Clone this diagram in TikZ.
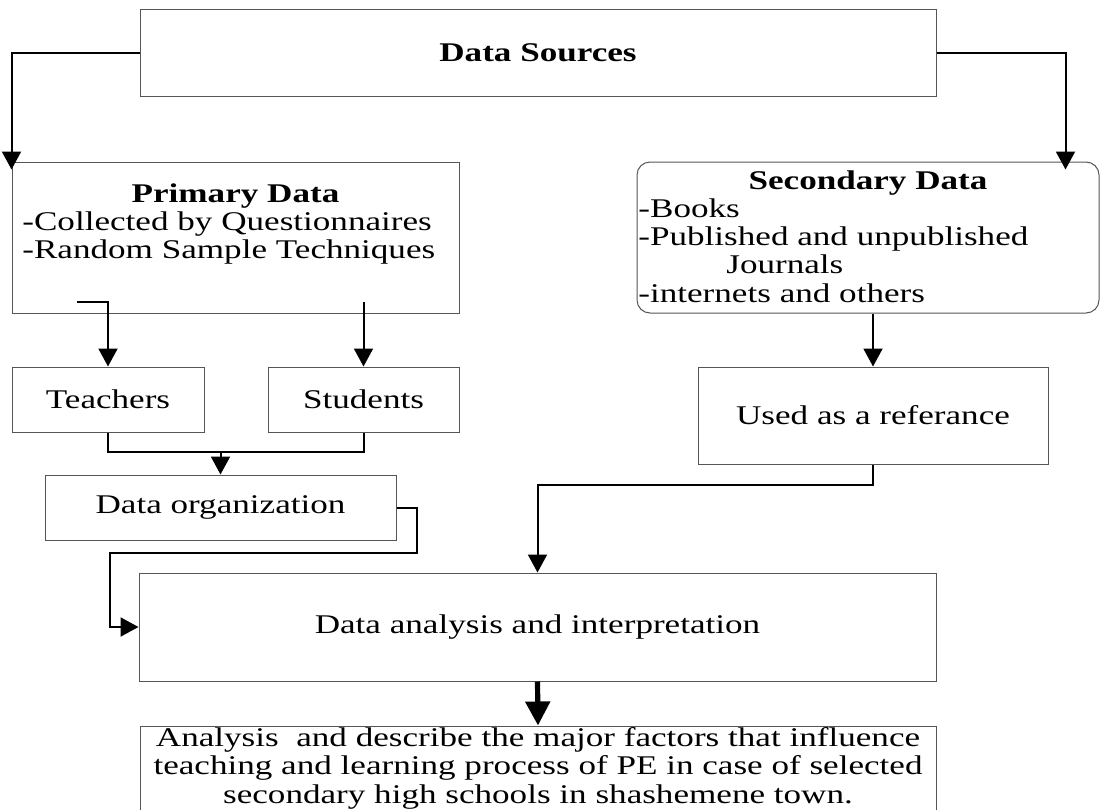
\documentclass[tikz,border=0pt]{standalone}
\usepackage{fontspec}
\setmainfont{Liberation Serif}
\usepackage{graphicx}
\usepackage{tikz}
\usetikzlibrary{arrows.meta,positioning}
\definecolor{boxgray}{RGB}{85,85,85}
\newcommand{\xwide}[1]{\scalebox{1.3}[1]{#1}}

\begin{document}
\begin{tikzpicture}[x=0.5pt,y=-0.5pt,
    box/.style={draw=boxgray, line width=0.5pt, inner sep=0pt, font=\fontsize{13.5}{14.25}\selectfont},
    txt/.style={inner sep=0pt, font=\fontsize{13.5}{14.25}\selectfont},
    conn/.style={-{Triangle[width=9.5pt,length=9pt]}, line width=1pt},
    link/.style={line width=1pt},
    bigconn/.style={-{Triangle[width=12pt,length=12pt]}, line width=2.6pt}]

    \useasboundingbox (0,0) rectangle (1102,809);
    \clip (0,0) rectangle (1102,809);

    % data sources
    \node[box, minimum width=398pt, minimum height=43.5pt] (src) at (538,52.5) {\xwide{\textbf{Data Sources}}};

    % primary data
    \node[box, minimum width=223.5pt, minimum height=75.5pt] (pri) at (235.5,237.5) {};
    \node[txt, anchor=base] (prititle) at (235.5,202) {\xwide{\textbf{Primary Data}}};
    \node[txt, anchor=base west] (pri1) at (22,230) {\xwide{-Collected by Questionnaires}};
    \node[txt, anchor=base west] (pri2) at (22,258) {\xwide{-Random Sample Techniques}};

    % secondary data
    \node[box, rounded corners=6.5pt, minimum width=231pt, minimum height=75.5pt] (sec) at (868,237.5) {};
    \node[txt, anchor=base] (sectitle) at (868,189) {\xwide{\textbf{Secondary Data}}};
    \node[txt, anchor=base west] (sec1) at (638,217) {\xwide{-Books}};
    \node[txt, anchor=base west] (sec2) at (638,245) {\xwide{-Published and unpublished}};
    \node[txt, anchor=base west] (sec3) at (726,273) {\xwide{Journals}};
    \node[txt, anchor=base west] (sec4) at (638,302) {\xwide{-internets and others}};

    % teachers, students, organization
    \node[box, minimum width=96pt, minimum height=32.5pt] (tea) at (108,399.5) {\xwide{Teachers}};
    \node[box, minimum width=95.5pt, minimum height=32.5pt] (stu) at (363.5,399.5) {\xwide{Students}};
    \node[box, minimum width=175.5pt, minimum height=32.5pt] (org) at (220.5,507.5) {\xwide{Data organization}};

    % reference
    \node[box, minimum width=175pt, minimum height=48.5pt] (ref) at (873,415.5) {\xwide{Used as a referance}};

    % analysis and result
    \node[box, minimum width=398.5pt, minimum height=54pt] (ana) at (537.5,627) {\xwide{Data analysis and interpretation}};
    \node[box, minimum width=398pt, minimum height=44pt] (res) at (538,770) {};
    \node[txt, anchor=north] (restxt) at (538,726) {\xwide{\begin{tabular}{@{}c@{}}Analysis~ and describe the major factors that influence\\
        teaching and learning process of PE in case of selected\\
        secondary high schools in shashemene town.\end{tabular}}};

    % connectors
    \draw[conn, shorten >=-4pt] (src.west) -| (pri.north west);
    \draw[conn, shorten >=-4pt] (src.east) -| ([xshift=-17pt]sec.north east);

    \coordinate (tfork) at (77,302);
    \coordinate (sfork) at (363.5,302);
    \draw[conn] (tfork) -| (tea.north);
    \draw[conn] (sfork) -- (stu.north);

    \coordinate (join) at (220.5,452);
    \draw[link] (tea.south) |- (join) -| (stu.south);
    \draw[conn] (join) -- (org.north);

    \coordinate (obend) at (110,553);
    \draw[conn] (org.east) -- ++(20,0) |- (obend) |- (ana.west);

    \draw[conn] (ref.north |- sec.south) -- (ref.north);
    \draw[conn] (ref.south) -- ++(0,20) -| (ana.north);
    \draw[bigconn] (ana.south) -- (res.north);

\end{tikzpicture}
\end{document}
